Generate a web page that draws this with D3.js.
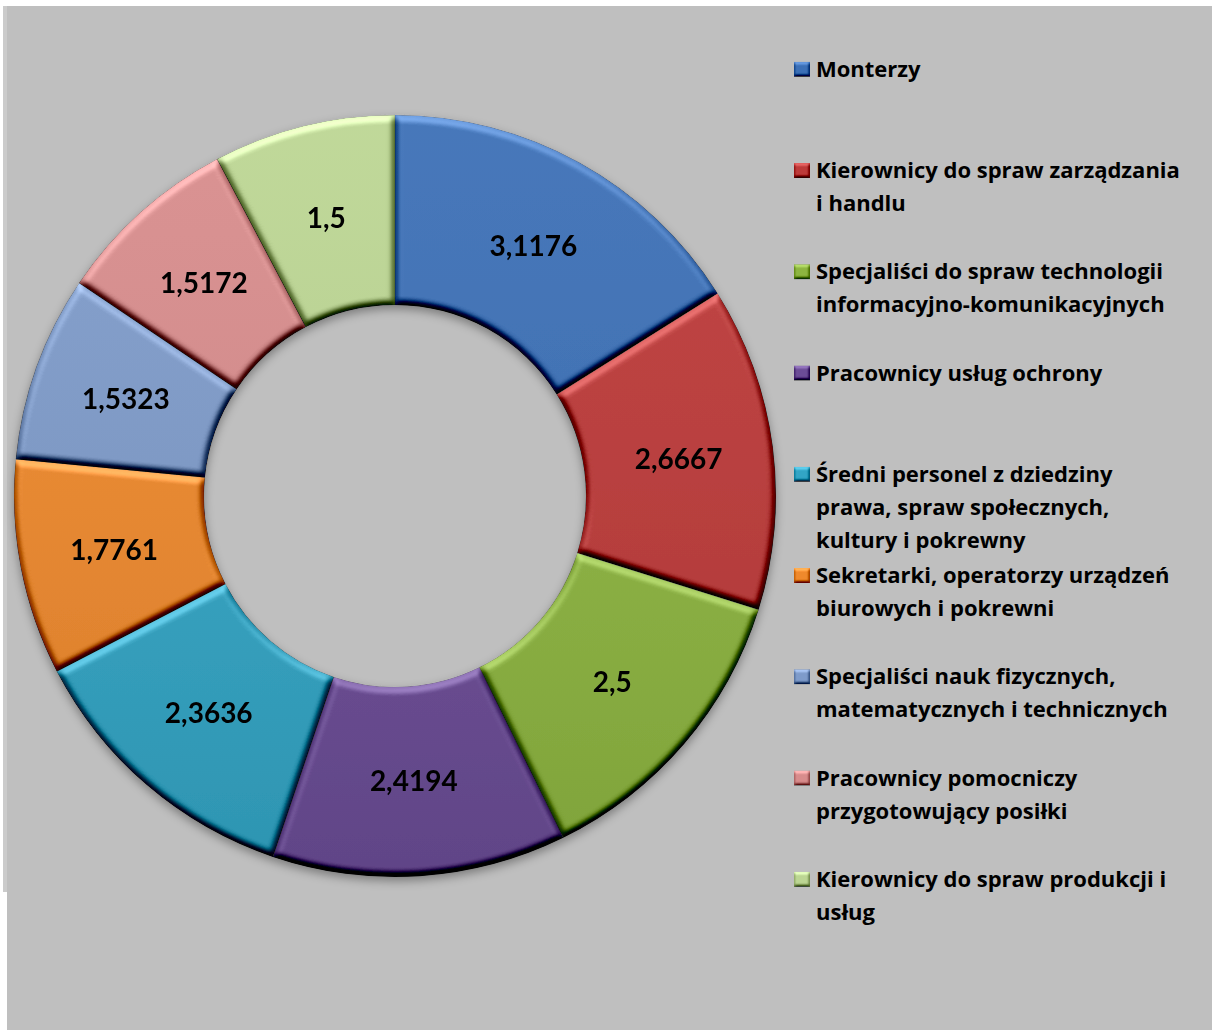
<!DOCTYPE html>
<html>
<head>
<meta charset="utf-8">
<script src="https://cdn.jsdelivr.net/npm/d3@7"></script>
<style>
  body { margin: 0; background: #fff; }
  svg { display: block; }
</style>
</head>
<body>
<div id="chart"></div>
<script>
  // categories (legend order = slice order, clockwise from 12 o'clock)
  const categories = [
    'Monterzy',
    'Kierownicy do spraw zarządzania\ni handlu',
    'Specjaliści do spraw technologii\ninformacyjno-komunikacyjnych',
    'Pracownicy usług ochrony',
    'Średni personel z dziedziny\nprawa, spraw społecznych,\nkultury i pokrewny',
    'Sekretarki, operatorzy urządzeń\nbiurowych i pokrewni',
    'Specjaliści nauk fizycznych,\nmatematycznych i technicznych',
    'Pracownicy pomocniczy\nprzygotowujący posiłki',
    'Kierownicy do spraw produkcji i\nusług'
  ]
  const values = [3.1176, 2.6667, 2.5, 2.4194, 2.3636, 1.7761, 1.5323, 1.5172, 1.5]
  const colors = ['#3b6fb6', '#bd3a39', '#8db540', '#6b4c96', '#32a5c5',
    '#ef892c', '#7e9bca', '#d88c8c', '#bcd693']

  const width = 1212
  const height = 1030
  const cx = 395
  const cy = 496
  const outerR = 381
  const innerR = 191

  const plFormat = d3.formatLocale({
    decimal: ',', thousands: ' ', grouping: [3], currency: ['', '']
  }).format('.5~g')

  const svg = d3.select('#chart')
    .append('svg')
    .attr('width', width)
    .attr('height', height)

  const defs = svg.append('defs')

  // soft bevel, a la office chart styles
  const addBevel = function (id, blur, scale, amount) {
    const f = defs.append('filter')
      .attr('id', id)
      .attr('x', '-10%').attr('y', '-10%')
      .attr('width', '120%').attr('height', '120%')
      .attr('color-interpolation-filters', 'sRGB')
    f.append('feGaussianBlur')
      .attr('in', 'SourceAlpha')
      .attr('stdDeviation', blur)
      .attr('result', 'blur')
    f.append('feDiffuseLighting')
      .attr('in', 'blur')
      .attr('surfaceScale', scale)
      .attr('diffuseConstant', 1)
      .attr('lighting-color', '#fff')
      .attr('result', 'light')
      .append('feDistantLight')
      .attr('azimuth', 260)
      .attr('elevation', 55)
    f.append('feComposite')
      .attr('in', 'SourceGraphic')
      .attr('in2', 'light')
      .attr('operator', 'arithmetic')
      .attr('k1', 0).attr('k2', 1).attr('k3', amount)
      .attr('k4', -amount * Math.sin(55 * Math.PI / 180))
      .attr('result', 'lit')
    f.append('feComposite')
      .attr('in', 'lit')
      .attr('in2', 'SourceAlpha')
      .attr('operator', 'in')
  }
  addBevel('bevel', 3.5, 5, 1.1)
  addBevel('bevelSmall', 1.5, 2, 0.9)

  // slight top-to-bottom shading inside each slice
  const shade = defs.append('linearGradient')
    .attr('id', 'shade')
    .attr('gradientUnits', 'userSpaceOnUse')
    .attr('x1', 0).attr('y1', -outerR)
    .attr('x2', 0).attr('y2', outerR)
  shade.append('stop').attr('offset', 0).attr('stop-color', '#fff').attr('stop-opacity', 0.06)
  shade.append('stop').attr('offset', 1).attr('stop-color', '#000').attr('stop-opacity', 0.1)

  const shadow = defs.append('filter')
    .attr('id', 'shadow')
    .attr('x', '-10%').attr('y', '-10%')
    .attr('width', '120%').attr('height', '125%')
  shadow.append('feDropShadow')
    .attr('dx', 0).attr('dy', 4)
    .attr('stdDeviation', 5)
    .attr('flood-color', '#000')
    .attr('flood-opacity', 0.35)

  // background
  svg.append('rect')
    .attr('x', 3).attr('y', 6)
    .attr('width', width - 3).attr('height', height - 6)
    .attr('fill', '#bfbfbf')
  svg.append('rect')
    .attr('x', 3).attr('y', 6)
    .attr('width', 4).attr('height', 886)
    .attr('fill', '#cbcbcb')
  svg.append('rect')
    .attr('x', 0).attr('y', 892)
    .attr('width', 7).attr('height', height - 892)
    .attr('fill', '#fff')

  const pie = d3.pie().sort(null).value(d => d)
  const arc = d3.arc().innerRadius(innerR).outerRadius(outerR)
  const arcs = pie(values)

  const donut = svg.append('g')
    .attr('filter', 'url(#shadow)')
    .append('g')
    .attr('transform', `translate(${cx},${cy})`)

  const slices = donut.selectAll('g')
    .data(arcs)
    .enter()
    .append('g')
    .attr('filter', 'url(#bevel)')

  slices.append('path')
    .attr('d', arc)
    .attr('fill', (d, i) => colors[i])
    .attr('stroke', 'rgba(0,0,0,0.25)')
    .attr('stroke-width', 0.6)

  slices.append('path')
    .attr('d', arc)
    .attr('fill', 'url(#shade)')

  const labels = svg.append('g')
    .attr('transform', `translate(${cx},${cy})`)
  labels.selectAll('text')
    .data(arcs)
    .enter()
    .append('text')
    .attr('x', d => arc.centroid(d)[0])
    .attr('y', d => arc.centroid(d)[1])
    .attr('dy', '0.36em')
    .attr('text-anchor', 'middle')
    .attr('font-family', 'Lato, "Open Sans", sans-serif')
    .attr('font-weight', 700)
    .attr('font-size', 28)
    .attr('fill', '#000')
    .text(d => plFormat(d.data))

  // legend
  const legendX = 794
  const legendTop = 178
  const legendStep = 101.25
  const lineH = 33

  const legend = svg.append('g')
  const items = legend.selectAll('g')
    .data(categories)
    .enter()
    .append('g')
    .attr('transform', (d, i) => `translate(${legendX},${legendTop + (i - 1) * legendStep})`)

  items.append('rect')
    .attr('x', 0).attr('y', -15)
    .attr('width', 16).attr('height', 15)
    .attr('fill', (d, i) => colors[i])
    .attr('filter', 'url(#bevelSmall)')

  items.append('text')
    .attr('font-family', '"Open Sans", Lato, sans-serif')
    .attr('font-weight', 700)
    .attr('font-size', 22)
    .attr('fill', '#000')
    .selectAll('tspan')
    .data(d => d.split('\n'))
    .enter()
    .append('tspan')
    .attr('x', 22)
    .attr('y', (d, j) => j * lineH)
    .text(d => d)
</script>
</body>
</html>
